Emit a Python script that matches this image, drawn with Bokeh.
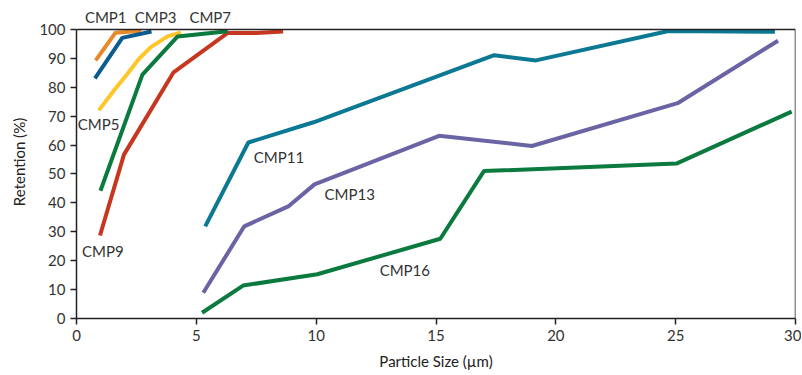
from bokeh.plotting import figure
from bokeh.models import Range1d, Label, FixedTicker, Span
from bokeh.embed import file_html
from bokeh.resources import INLINE

# Data (particle size in µm, retention in %)
cmp1_x = [0.8, 1.63, 2.7]
cmp1_y = [89.3, 98.9, 99.6]
cmp3_x = [0.77, 1.91, 3.13]
cmp3_y = [83.1, 97.1, 99.3]
cmp5_x = [0.93, 1.56, 2.12, 2.6, 3.1, 3.8, 4.36]
cmp5_y = [72.0, 78.9, 84.6, 89.8, 93.9, 97.6, 99.0]
cmp7_x = [1.0, 2.75, 4.22, 6.31]
cmp7_y = [44.2, 84.4, 97.6, 99.4]
cmp9_x = [0.98, 1.98, 4.05, 6.31, 7.5, 8.62]
cmp9_y = [28.7, 56.7, 85.2, 98.8, 98.8, 99.3]
cmp11_x = [5.37, 7.17, 9.89, 17.43, 19.17, 24.7, 29.14]
cmp11_y = [31.9, 60.9, 67.9, 91.1, 89.3, 99.5, 99.2]
cmp13_x = [5.29, 7.0, 8.86, 9.93, 15.13, 19.0, 25.08, 29.27]
cmp13_y = [8.9, 31.9, 38.9, 46.4, 63.2, 59.7, 74.5, 96.1]
cmp16_x = [5.24, 6.95, 10.05, 15.18, 17.0, 25.03, 29.84]
cmp16_y = [2.0, 11.4, 15.3, 27.6, 51.0, 53.6, 71.6]

x_ticks = [0, 5, 10, 15, 20, 25, 30]
y_ticks = [0, 10, 20, 30, 40, 50, 60, 70, 80, 90, 100]

FONT = "Lato"
X_MAX = 30
Y_MAX = 100

series = [
    (cmp1_x, cmp1_y, "#E8892A"),
    (cmp3_x, cmp3_y, "#0B5C8E"),
    (cmp5_x, cmp5_y, "#FFC62A"),
    (cmp9_x, cmp9_y, "#C7361F"),
    (cmp7_x, cmp7_y, "#0B7A3E"),
    (cmp11_x, cmp11_y, "#0C7994"),
    (cmp13_x, cmp13_y, "#6A64A5"),
    (cmp16_x, cmp16_y, "#0B7A3E"),
]

p = figure(width=801, height=372, output_backend="svg", toolbar_location=None,
           x_range=Range1d(0, X_MAX), y_range=Range1d(0, 108.3),
           min_border_left=76, min_border_right=6, min_border_top=5, min_border_bottom=52)

for xs, ys, c in series:
    p.line(xs, ys, line_color=c, line_width=4)

p.xgrid.visible = False
p.ygrid.visible = False
p.outline_line_color = None
p.background_fill_color = "white"
p.border_fill_color = "white"

# frame: top border at 100 and right border at x = 30
p.add_layout(Span(location=Y_MAX, dimension="width", line_color="#222222", line_width=1.5))
p.segment(x0=[X_MAX], y0=[0], x1=[X_MAX], y1=[Y_MAX], line_color="#222222", line_width=1.5)

for ax in (p.xaxis[0], p.yaxis[0]):
    ax.axis_line_color = "#222222"
    ax.axis_line_width = 1.5
    ax.major_tick_line_color = "#222222"
    ax.major_tick_line_width = 1.5
    ax.major_tick_in = 0
    ax.major_tick_out = 6
    ax.minor_tick_line_color = None
    ax.major_label_text_font = FONT
    ax.major_label_text_font_size = "15px"
    ax.major_label_text_color = "#333333"
    ax.axis_label_text_font = FONT
    ax.axis_label_text_font_size = "15px"
    ax.axis_label_text_font_style = "normal"
    ax.axis_label_text_color = "#222222"

p.yaxis.bounds = (0, Y_MAX)
p.xaxis.ticker = FixedTicker(ticks=x_ticks)
p.yaxis.ticker = FixedTicker(ticks=y_ticks)
p.xaxis.axis_label = "Particle Size (µm)"
p.yaxis.axis_label = "Retention (%)"
p.xaxis.axis_label_standoff = 8
p.yaxis.axis_label_standoff = 8

labels = [
    ("CMP1", 1.22, 104.2),
    ("CMP3", 3.3, 104.2),
    ("CMP7", 5.58, 104.2),
    ("CMP5", 0.92, 67.2),
    ("CMP9", 1.1, 23.3),
    ("CMP11", 8.45, 56.0),
    ("CMP13", 11.4, 43.0),
    ("CMP16", 13.7, 16.8),
]
for t, x, y in labels:
    p.add_layout(Label(x=x, y=y, text=t, text_font=FONT, text_font_size="15px",
                       text_color="#333333", text_align="center", text_baseline="middle"))

open("out.html", "w").write(file_html(p, INLINE))
